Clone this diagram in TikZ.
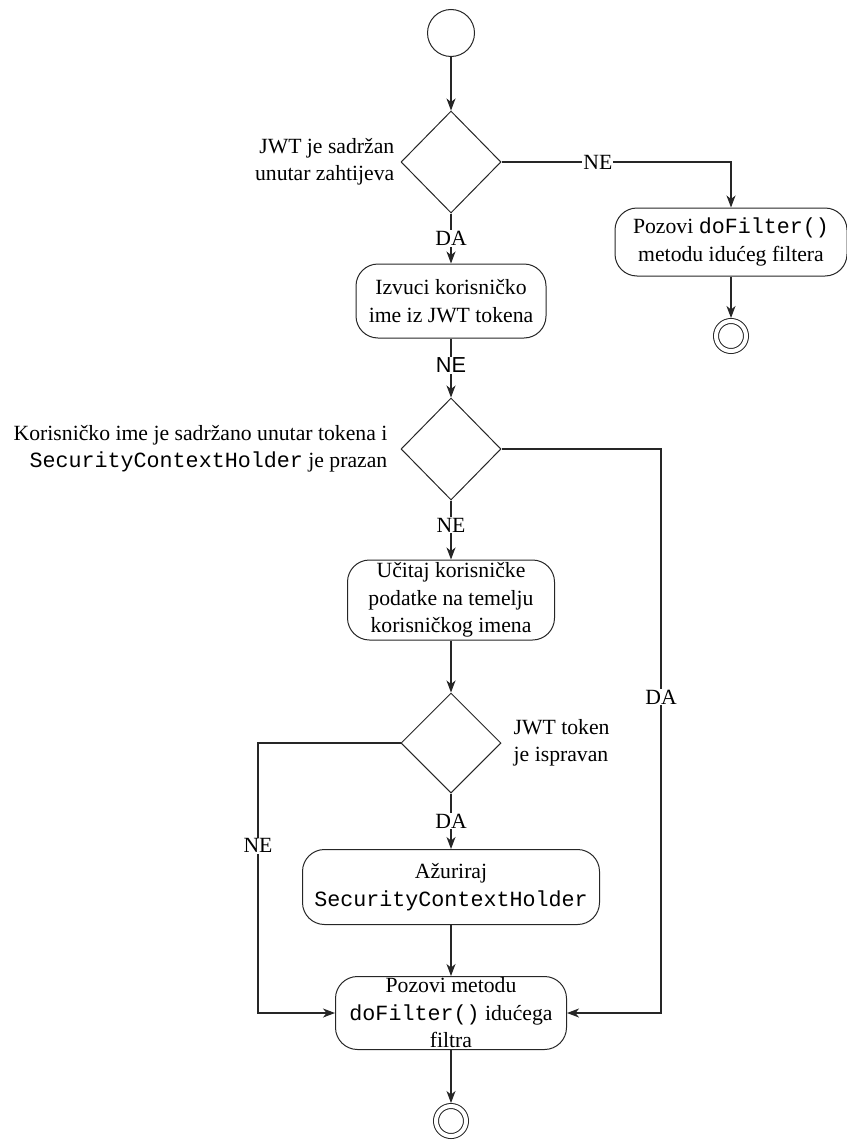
\documentclass[tikz,border=0pt]{standalone}
\usepackage{fontspec}
\setmainfont{Liberation Serif}
\setmonofont{Liberation Mono}
\newfontfamily\labelsans{Liberation Sans}
\usepackage{tikz}
\usetikzlibrary{shapes.geometric}
\usetikzlibrary{arrows.meta}
\usetikzlibrary{positioning}
\newcommand\diagsize{\fontsize{21.7}{27.5}\selectfont}

\begin{document}
\begin{tikzpicture}[x=1pt, y=-1pt,
  flow/.style={draw=black!85, line width=1.1pt, -{Stealth[length=12pt,width=9pt,inset=3.5pt]}},
  activity/.style={draw=black!85, line width=1pt, rounded corners=22pt, align=center, inner sep=0pt, font=\diagsize},
  decision/.style={draw=black!85, line width=1pt, diamond, minimum width=100pt, minimum height=102pt, inner sep=0pt},
  guard/.style={fill=white, inner sep=1pt, font=\diagsize},
  sansguard/.style={guard, font=\labelsans\diagsize},
  cond/.style={inner sep=0pt, font=\diagsize},
  startnode/.style={draw=black!85, line width=1pt, circle, minimum size=47pt, inner sep=0pt},
  endnode/.style={draw=black!85, line width=1pt, circle, double, double distance=4pt, minimum size=30pt, inner sep=0pt, outer sep=3pt}]

\useasboundingbox (0,0) rectangle (846,1140);

\pgfmathsetmacro{\midx}{451}

% activities and decisions
\node[startnode] (start) at (\midx,33) {};
\node[decision] (jwtin) at (\midx,162) {};
\node[activity, minimum width=232pt, minimum height=68pt] (skip) at (731,242) {Pozovi \texttt{doFilter()}\\metodu idućeg filtera};
\node[endnode] (skipend) at (731,336) {};
\node[activity, minimum width=190pt, minimum height=74pt] (extract) at (\midx,301) {Izvuci korisničko\\ime iz JWT tokena};
\node[decision] (userin) at (\midx,449) {};
\node[activity, minimum width=207pt, minimum height=80pt] (load) at (\midx,600) {Učitaj korisničke\\podatke na temelju\\korisničkog imena};
\node[decision, minimum height=100pt] (valid) at (\midx,743) {};
\node[activity, minimum width=297pt, minimum height=75pt] (update) at (\midx,887) {Ažuriraj\\\texttt{SecurityContextHolder}};
\node[activity, minimum width=231pt, minimum height=73pt] (next) at (\midx,1013) {Pozovi metodu\\\texttt{doFilter()} idućega\\filtra};
\node[endnode] (finish) at (\midx,1121) {};

% conditions
\node[cond, left=6pt of jwtin, align=right] {JWT je sadržan\\unutar zahtijeva};
\node[cond, left=13pt of userin, align=right] {Korisničko ime je sadržano unutar tokena i\\\texttt{SecurityContextHolder} je prazan};
\node[cond, right=12pt of valid, align=left] {JWT token\\je ispravan};

\coordinate (rail r) at (661,0);
\coordinate (rail l) at (258,0);

% flows
\draw[flow] (start) -- (jwtin);
\draw[flow] (jwtin) -- node[guard]{DA} (extract);
\draw[flow] (jwtin.east) -| node[guard, pos=0.21]{NE} (skip.north);
\draw[flow] (skip) -- (skipend);
\draw[flow] (extract) -- node[sansguard, pos=0.45]{NE} (userin);
\draw[flow] (userin) -- node[guard, pos=0.42]{NE} (load);
\draw[flow] (userin.east) -- (userin.east -| rail r) |- node[guard, pos=0.22]{DA} (next.east);
\draw[flow] (load) -- (valid);
\draw[flow] (valid) -- node[guard]{DA} (update);
\draw[flow] (valid.west) -- (valid.west -| rail l) |- node[guard, pos=0.19]{NE} (next.west);
\draw[flow] (update) -- (next);
\draw[flow] (next) -- (finish);
\end{tikzpicture}
\end{document}
